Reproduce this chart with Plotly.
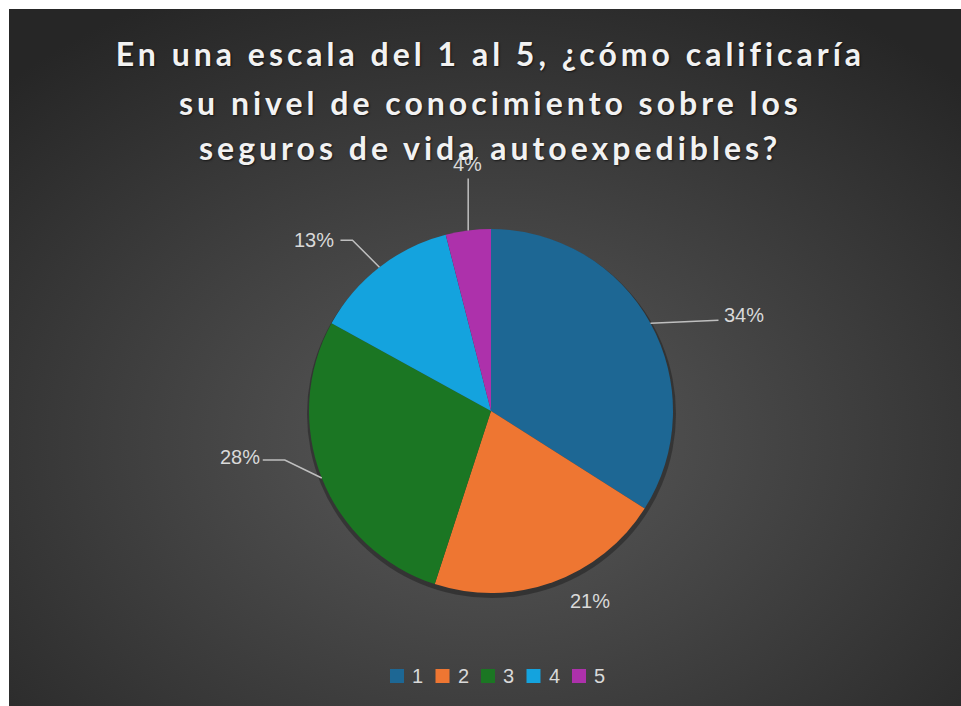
import base64
import math
import plotly.graph_objects as go

# ---- data ----
title_lines = ["En una escala del 1 al 5, ¿cómo calificaría",
               "su nivel de conocimiento sobre los",
               "seguros de vida autoexpedibles?"]
categories = ["1", "2", "3", "4", "5"]
percentages = [34, 21, 28, 13, 4]
colors = ["#1d6794", "#ee7632", "#1b7623", "#14a3de", "#ad31ab"]

W, H = 961, 706
# pie geometry (pixels)
CX, CY, R = 491, 411, 182

fig = go.Figure()

fig.add_trace(go.Pie(
    labels=categories, values=percentages, sort=False,
    direction="clockwise", rotation=0,
    marker=dict(colors=colors, line=dict(width=0)),
    textinfo="none", hoverinfo="label+percent",
    domain=dict(x=[(CX - R) / W, (CX + R) / W],
                y=[1 - (CY + R) / H, 1 - (CY - R) / H]),
    showlegend=False,
))

# background radial gradient as SVG image
svg = ('<svg xmlns="http://www.w3.org/2000/svg" width="952" height="697" '
       'viewBox="0 0 952 697" preserveAspectRatio="none"><defs>'
       '<radialGradient id="g" cx="50%" cy="62%" r="72%">'
       '<stop offset="0" stop-color="#5a5a5a"/>'
       '<stop offset="1" stop-color="#262626"/></radialGradient></defs>'
       '<rect width="952" height="697" fill="url(#g)"/></svg>')
src = "data:image/svg+xml;base64," + base64.b64encode(svg.encode()).decode()
fig.add_layout_image(dict(source=src, xref="paper", yref="paper",
                          x=9 / W, y=1 - 9 / H, sizex=952 / W, sizey=697 / H,
                          xanchor="left", yanchor="top", sizing="stretch",
                          layer="below"))

# pie shadow
fig.add_shape(type="circle", xref="paper", yref="paper",
              x0=(CX - R - 2) / W, x1=(CX + R + 3) / W,
              y0=1 - (CY + R + 5) / H, y1=1 - (CY - R + 1) / H,
              fillcolor="rgba(0,0,0,0.30)", line=dict(width=0), layer="below")

# title lines
title_y = [53, 102, 147]
for t, yy in zip(title_lines, title_y):
    fig.add_annotation(text=t, xref="paper", yref="paper", x=490 / W, y=1 - yy / H,
                       xanchor="center", yanchor="middle", showarrow=False,
                       font=dict(family="Lato", size=32, color="#f2f2f2", weight="bold",
                                 shadow="1px 1px 2px rgba(0,0,0,0.6)"))

# labels with leader lines (offsets are layout choices)
label_offsets = [  # (label centre dx, dy relative to slice edge point), leader elbow
    ((94, -8), [(68, -3)]),
    ((37, 19), None),
    ((-82, -21), [(-37, -18), (-59, -18)]),
    ((-65, -27), [(-27, -27), (-39, -27)]),
    ((-1, -66), [(0, -52)]),
]
total = sum(percentages)
cum = 0
for p, (lab, elbow) in zip(percentages, label_offsets):
    mid = (cum + p / 2) / total * 2 * math.pi
    cum += p
    ex, ey = CX + R * math.sin(mid), CY - R * math.cos(mid)
    lx, ly = ex + lab[0], ey + lab[1]
    fig.add_annotation(text=f"{round(p / total * 100)}%", xref="paper", yref="paper",
                       x=lx / W, y=1 - ly / H, showarrow=False,
                       xanchor="center", yanchor="middle",
                       font=dict(family="Liberation Sans", size=20, color="#d9d9d9"))
    if elbow:
        pts = [(ex, ey)] + [(ex + dx, ey + dy) for dx, dy in elbow]
        path = "M " + " L ".join(f"{a / W},{1 - b / H}" for a, b in pts)
        fig.add_shape(type="path", xref="paper", yref="paper", path=path,
                      line=dict(color="#bfbfbf", width=1.5))

# legend (swatch + text), laid out like the original
LEG_X0, LEG_PITCH, LEG_Y, SW = 397, 45.5, 676, 14
for i, (cat, col) in enumerate(zip(categories, colors)):
    sx = LEG_X0 + i * LEG_PITCH
    fig.add_shape(type="rect", xref="paper", yref="paper",
                  x0=(sx - SW / 2) / W, x1=(sx + SW / 2) / W,
                  y0=1 - (LEG_Y + SW / 2) / H, y1=1 - (LEG_Y - SW / 2) / H,
                  fillcolor=col, line=dict(width=0))
    fig.add_annotation(text=cat, xref="paper", yref="paper",
                       x=(sx + SW / 2 + 6) / W, y=1 - LEG_Y / H,
                       xanchor="left", yanchor="middle", showarrow=False,
                       font=dict(family="Liberation Sans", size=20, color="#d9d9d9"))

fig.update_layout(
    width=W, height=H,
    margin=dict(l=0, r=0, t=0, b=0),
    paper_bgcolor="white", plot_bgcolor="rgba(0,0,0,0)",
    showlegend=False,
)

post = """
var gd = document.getElementById('{plot_id}');
function ls(){
  gd.querySelectorAll('.annotation-text').forEach(function(t){
    if (t.textContent.length > 25) { t.style.letterSpacing = '4px'; }
  });
}
ls(); setTimeout(ls, 50);
if (gd.on) { gd.on('plotly_afterplot', ls); }
"""
fig.write_html("out.html", post_script=post)
